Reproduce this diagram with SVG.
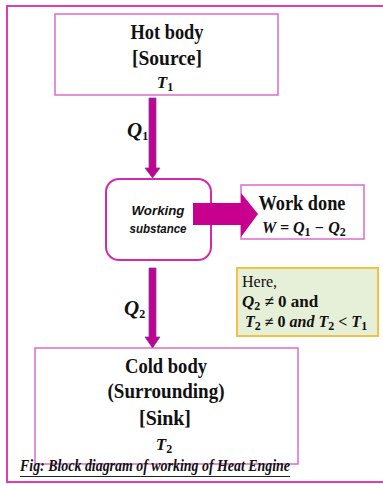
<svg xmlns="http://www.w3.org/2000/svg" width="383" height="484" viewBox="0 0 383 484">
  <style>
    .box { fill: #ffffff; stroke: #dc6cc8; stroke-width: 1.5; }
    .title { font-family: "Liberation Serif", serif; font-weight: bold; font-size: 22px; fill: #111; text-anchor: middle; }
    .math { font-family: "Liberation Serif", serif; font-weight: bold; font-style: italic; fill: #111; }
    .sub { font-style: normal; font-size: 12px; }
    .flow { fill: #c4008e; stroke: #6a4cb0; stroke-width: 0.8; }
    .ws { font-family: "Liberation Sans", sans-serif; font-weight: bold; font-style: italic; font-size: 13px; fill: #111; text-anchor: middle; }
    .note { font-family: "Liberation Serif", serif; fill: #111; }
  </style>

  <!-- outer frame -->
  <rect x="7" y="6" width="382" height="476" fill="#ffffff" stroke="#e03cb4" stroke-width="2"/>

  <g id="hot-body">
    <rect class="box" x="55" y="14" width="223" height="81"/>
    <text class="title" x="167" y="39" textLength="73" lengthAdjust="spacingAndGlyphs">Hot body</text>
    <text class="title" x="167" y="65" textLength="70" lengthAdjust="spacingAndGlyphs">[Source]</text>
    <text class="math" x="165" y="88" font-size="17" text-anchor="middle">T<tspan class="sub" dy="3">1</tspan></text>
  </g>

  <g id="working-substance">
    <rect x="106" y="179" width="105" height="81" rx="13" ry="13" fill="#ffffff" stroke="#d42aa8" stroke-width="2"/>
    <text class="ws" x="158" y="215" textLength="53" lengthAdjust="spacingAndGlyphs">Working</text>
    <text class="ws" x="158" y="233" textLength="57" lengthAdjust="spacingAndGlyphs">substance</text>
  </g>

  <g id="work-done">
    <rect class="box" x="241" y="185" width="123" height="54"/>
    <text class="title" x="302" y="210" textLength="87" lengthAdjust="spacingAndGlyphs">Work done</text>
    <text class="math" x="262" y="233" font-size="16">W = Q<tspan class="sub" font-size="13" dy="3">1</tspan><tspan dy="-3"> − Q</tspan><tspan class="sub" font-size="13" dy="3">2</tspan></text>
  </g>

  <g id="conditions">
    <rect x="237" y="268" width="141" height="68" fill="#e6efd8" stroke="#f0c246" stroke-width="2"/>
    <text class="note" x="242" y="287" font-size="16">Here,</text>
    <text class="math" x="242" y="307" font-size="17">Q<tspan class="sub" font-size="13" dy="3">2</tspan><tspan dy="-3" font-style="normal"> ≠ 0    and</tspan></text>
    <text class="math" x="245" y="327" font-size="16">T<tspan class="sub" font-size="12" dy="3">2</tspan><tspan dy="-3" font-style="normal"> ≠ 0 </tspan><tspan>and T</tspan><tspan class="sub" font-size="12" dy="3">2</tspan><tspan dy="-3" font-style="normal"> &lt; </tspan><tspan>T</tspan><tspan class="sub" font-size="12" dy="3">1</tspan></text>
  </g>

  <g id="cold-body">
    <rect class="box" x="35" y="348" width="263" height="116"/>
    <text class="title" x="166" y="373" textLength="82" lengthAdjust="spacingAndGlyphs">Cold body</text>
    <text class="title" x="166" y="398" textLength="117" lengthAdjust="spacingAndGlyphs">(Surrounding)</text>
    <text class="title" x="165" y="425" textLength="52" lengthAdjust="spacingAndGlyphs">[Sink]</text>
    <text class="math" x="164" y="450" font-size="17" text-anchor="middle">T<tspan class="sub" dy="3">2</tspan></text>
  </g>

  <g id="connectors">
    <!-- heat in: hot body to working substance -->
    <polygon class="flow" points="149,98 156,98 156,168 160,168 152.5,178 145,168 149,168"/>
    <text class="math" x="127" y="137" font-size="21">Q<tspan class="sub" font-size="14" dy="3">1</tspan></text>
    <!-- heat out: working substance to cold body -->
    <polygon class="flow" points="149,268 156,268 156,337 160,337 152.5,348 145,337 149,337"/>
    <text class="math" x="124" y="315" font-size="21">Q<tspan class="sub" font-size="14" dy="3">2</tspan></text>
    <!-- work output -->
    <polygon points="193,203 241,203 241,193 258,214 241,237 241,225 193,225" fill="#c8008e"/>
  </g>

  <g id="caption">
    <text class="math" x="20" y="471" font-size="17" textLength="270" lengthAdjust="spacingAndGlyphs">Fig: Block diagram of working of Heat Engine</text>
    <line x1="20" y1="476.5" x2="290" y2="476.5" stroke="#222" stroke-width="1"/>
  </g>
</svg>
